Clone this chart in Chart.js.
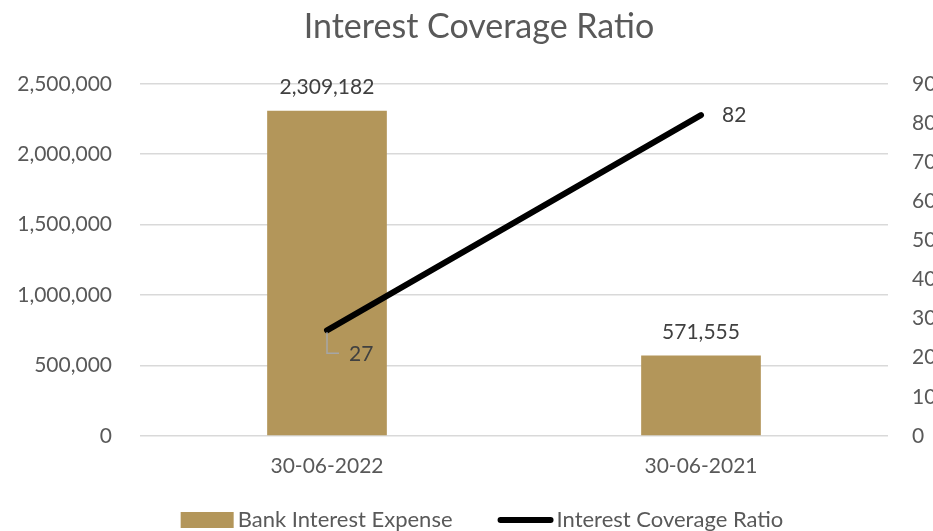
<!DOCTYPE html>
<html>
<head>
<meta charset="utf-8">
<script src="https://cdn.jsdelivr.net/npm/chart.js@4.4.1/dist/chart.umd.min.js"></script>
<style>
  html, body { margin:0; padding:0; background:#fff; overflow:hidden; }
  #wrap { width:958px; height:531px; position:relative; }
</style>
</head>
<body>
<div id="wrap"><canvas id="c"></canvas></div>
<script>
// ── Data ──────────────────────────────────────────────────────
const categories   = ['30-06-2022', '30-06-2021'];
const bankInterest = [2309182, 571555];
const coverage     = [27, 82];
const leftTicks    = [0, 500000, 1000000, 1500000, 2000000, 2500000];
const rightTicks   = [0, 10, 20, 30, 40, 50, 60, 70, 80, 90];

const C = { bar:'#B3965A', line:'#000000', text:'#595959', grid:'#D9D9D9', leader:'#A6A6A6' };
const FONT = 'Lato, "Open Sans", sans-serif';
const FS = 21;
const fmt = v => v.toLocaleString('en-US');

// ── Data labels ───────────────────────────────────────────────
const labelPlugin = {
  id:'labels',
  afterDatasetsDraw(chart) {
    const ctx = chart.ctx;
    ctx.save();
    ctx.font = `${FS}px ${FONT}`;
    ctx.fillStyle = '#404040';
    ctx.textBaseline = 'middle';
    chart.getDatasetMeta(0).data.forEach((el, i) => {
      ctx.textAlign = 'center';
      ctx.fillText(fmt(bankInterest[i]), el.x, el.y - 23);
    });
    const pts = chart.getDatasetMeta(1).data;
    pts.forEach((p, i) => {
      ctx.textAlign = 'left';
      if (i === 0) {
        ctx.strokeStyle = C.leader; ctx.lineWidth = 1.5;
        ctx.beginPath();
        ctx.moveTo(p.x, p.y + 2); ctx.lineTo(p.x, p.y + 23); ctx.lineTo(p.x + 12, p.y + 23);
        ctx.stroke();
        ctx.fillText(String(coverage[i]), p.x + 22, p.y + 24);
      } else {
        ctx.fillText(String(coverage[i]), p.x + 21, p.y);
      }
    });
    ctx.restore();
  }
};

// ── Legend (bottom, partly cut off like the original) ─────────
const legendPlugin = {
  id:'bottomLegend',
  afterDraw(chart) {
    const ctx = chart.ctx;
    ctx.save();
    ctx.font = `22px ${FONT}`;
    ctx.textBaseline = 'middle';
    ctx.textAlign = 'left';
    const ds = chart.data.datasets;
    const sw = 53, gapTxt = 4, gapItem = 45, y = 520;
    const w0 = ctx.measureText(ds[0].label).width, w1 = ctx.measureText(ds[1].label).width;
    const total = sw + gapTxt + w0 + gapItem + sw + 2 + gapTxt + w1;
    let x = chart.width / 2 + 3 - total / 2;
    ctx.fillStyle = ds[0].backgroundColor;
    ctx.fillRect(x, y - 8, sw, 16);
    ctx.fillStyle = C.text;
    ctx.fillText(ds[0].label, x + sw + gapTxt, y);
    x += sw + gapTxt + w0 + gapItem;
    ctx.strokeStyle = ds[1].borderColor; ctx.lineWidth = 6; ctx.lineCap = 'round';
    ctx.beginPath(); ctx.moveTo(x + 3, y); ctx.lineTo(x + sw, y); ctx.stroke();
    ctx.fillText(ds[1].label, x + sw + 2 + gapTxt, y);
    ctx.restore();
  }
};

new Chart(document.getElementById('c'), {
  data:{
    labels: categories,
    datasets:[
      { type:'bar', label:'Bank Interest Expense', data:bankInterest, yAxisID:'y',
        backgroundColor:C.bar, borderWidth:0, barPercentage:0.32, categoryPercentage:1, order:2 },
      { type:'line', label:'Interest Coverage Ratio', data:coverage, yAxisID:'y1',
        borderColor:C.line, backgroundColor:C.line, borderWidth:6, borderCapStyle:'round',
        pointRadius:0, tension:0, order:1 },
    ]
  },
  options:{
    responsive:true, maintainAspectRatio:false, animation:false,
    layout:{ padding:{ left:0, right:0, top:0, bottom:50 } },
    plugins:{
      title:{ display:true, text:'Interest Coverage Ratio', color:C.text,
              font:{ family:FONT, size:34, weight:'normal' }, padding:{ top:7, bottom:36 } },
      legend:{ display:false },
      tooltip:{ enabled:false }
    },
    scales:{
      x:{ grid:{ display:false, drawTicks:false }, border:{ display:false },
          ticks:{ color:C.text, font:{ family:FONT, size:FS }, padding:18 },
          afterFit: s => { s.height = 45; } },
      y:{ position:'left', min:0, max:2500000,
          afterBuildTicks: s => { s.ticks = leftTicks.map(v => ({ value:v })); },
          grid:{ color:C.grid, lineWidth:1.5, drawTicks:false }, border:{ display:false },
          ticks:{ color:C.text, font:{ family:FONT, size:FS }, padding:28, callback: v => fmt(v) },
          afterFit: s => { s.width = 140; } },
      y1:{ position:'right', min:0, max:90,
          afterBuildTicks: s => { s.ticks = rightTicks.map(v => ({ value:v })); },
          grid:{ display:false, drawTicks:false }, border:{ display:false },
          ticks:{ color:C.text, font:{ family:FONT, size:FS }, padding:24 },
          afterFit: s => { s.width = 70; } }
    }
  },
  plugins:[labelPlugin, legendPlugin]
});
</script>
</body>
</html>
